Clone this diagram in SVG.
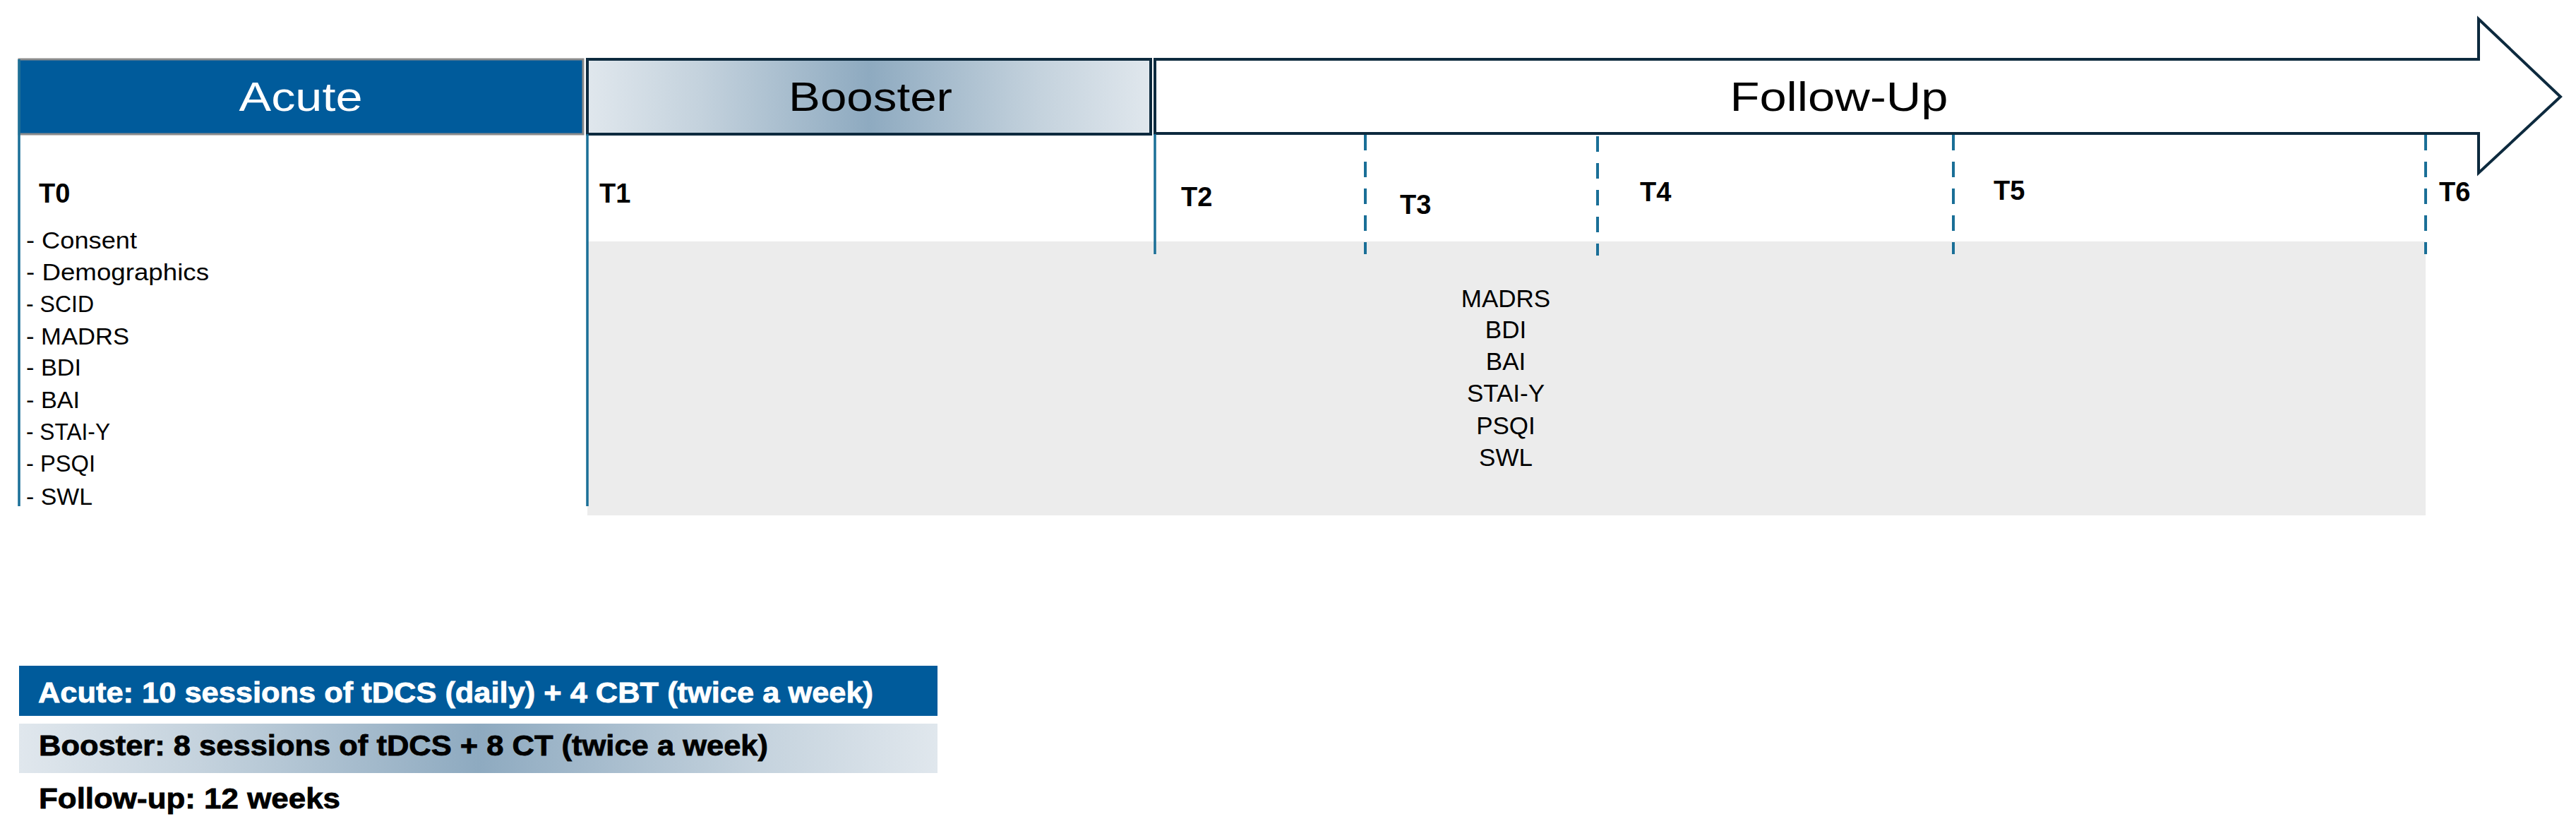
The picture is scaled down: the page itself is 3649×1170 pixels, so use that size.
<svg xmlns="http://www.w3.org/2000/svg" width="3649" height="1170" viewBox="0 0 3649 1170">
  <style>
    .hdr { font-family: "Liberation Sans", Arial, sans-serif; font-size: 58px; text-anchor: middle; }
    .tl { font-family: "Liberation Sans", Arial, sans-serif; font-size: 38px; font-weight: bold; fill: #000; }
    .lst { font-family: "Liberation Sans", Arial, sans-serif; font-size: 33px; fill: #000; }
    .ctr { font-family: "Liberation Sans", Arial, sans-serif; font-size: 35px; fill: #000; text-anchor: middle; }
    .leg { font-family: "Liberation Sans", Arial, sans-serif; font-size: 40px; font-weight: bold; stroke-width: 0.8; }
    .solid { stroke: #1a6f97; stroke-width: 3.5; fill: none; }
    .dash { stroke: #1a6f97; stroke-width: 4; fill: none; stroke-dasharray: 22 16; }
  </style>
  <defs>
    <linearGradient id="boostGrad" x1="0" y1="0" x2="1" y2="0">
      <stop offset="0" stop-color="#e0e7ed"/>
      <stop offset="0.2" stop-color="#c4d2dd"/>
      <stop offset="0.5" stop-color="#8eaac0"/>
      <stop offset="0.8" stop-color="#c4d2dd"/>
      <stop offset="1" stop-color="#e0e7ed"/>
    </linearGradient>
  </defs>

  <rect width="3649" height="1170" fill="#ffffff"/>

  <!-- gray measurement band -->
  <g id="followup-measures">
    <rect x="832" y="342" width="2604" height="388" fill="#ececec"/>
    <text class="ctr" x="2133" y="435">MADRS</text>
    <text class="ctr" x="2133" y="479">BDI</text>
    <text class="ctr" x="2133" y="524">BAI</text>
    <text class="ctr" x="2133" y="569">STAI-Y</text>
    <text class="ctr" x="2133" y="615">PSQI</text>
    <text class="ctr" x="2133" y="660">SWL</text>
  </g>

  <!-- phase headers -->
  <g id="acute">
    <rect x="27" y="84" width="799" height="106" fill="#005b9b" stroke="#8c8c8c" stroke-width="3"/>
    <text class="hdr" x="426" y="157" fill="#ffffff" textLength="175" lengthAdjust="spacingAndGlyphs">Acute</text>
  </g>
  <g id="booster">
    <rect x="832" y="84" width="798" height="106" fill="url(#boostGrad)" stroke="#0d2a3e" stroke-width="4"/>
    <text class="hdr" x="1233" y="157" fill="#000000" textLength="232" lengthAdjust="spacingAndGlyphs">Booster</text>
  </g>
  <g id="follow-up">
    <path d="M1636,84 L3511,84 L3511,27 L3627,137 L3511,245 L3511,189 L1636,189 Z" fill="#ffffff" stroke="#0d2a3e" stroke-width="4" stroke-linejoin="miter"/>
    <text class="hdr" x="2605" y="157" fill="#000000" textLength="309" lengthAdjust="spacingAndGlyphs">Follow-Up</text>
  </g>

  <!-- timeline markers -->
  <g id="connectors">
    <line class="solid" x1="27" y1="84" x2="27" y2="717"/>
    <line class="solid" x1="832" y1="190" x2="832" y2="717"/>
    <line class="solid" x1="1636" y1="190" x2="1636" y2="360"/>
    <line class="dash" x1="1934" y1="191" x2="1934" y2="360"/>
    <line class="dash" x1="2263" y1="193" x2="2263" y2="362"/>
    <line class="dash" x1="2767" y1="191" x2="2767" y2="360"/>
    <line class="dash" x1="3436" y1="191" x2="3436" y2="360"/>
  </g>

  <!-- time point labels -->
  <g id="t0">
    <text class="tl" x="55" y="287">T0</text>
    <text class="lst" x="37" y="352" textLength="157" lengthAdjust="spacingAndGlyphs">- Consent</text>
    <text class="lst" x="37" y="397" textLength="259" lengthAdjust="spacingAndGlyphs">- Demographics</text>
    <text class="lst" x="37" y="442" textLength="96" lengthAdjust="spacingAndGlyphs">- SCID</text>
    <text class="lst" x="37" y="488" textLength="146" lengthAdjust="spacingAndGlyphs">- MADRS</text>
    <text class="lst" x="37" y="532" textLength="78" lengthAdjust="spacingAndGlyphs">- BDI</text>
    <text class="lst" x="37" y="578" textLength="76" lengthAdjust="spacingAndGlyphs">- BAI</text>
    <text class="lst" x="37" y="623" textLength="119" lengthAdjust="spacingAndGlyphs">- STAI-Y</text>
    <text class="lst" x="37" y="668" textLength="98" lengthAdjust="spacingAndGlyphs">- PSQI</text>
    <text class="lst" x="37" y="715" textLength="94" lengthAdjust="spacingAndGlyphs">- SWL</text>
  </g>
  <g id="t1"><text class="tl" x="849" y="287">T1</text></g>
  <g id="t2"><text class="tl" x="1673" y="292">T2</text></g>
  <g id="t3"><text class="tl" x="1983" y="303">T3</text></g>
  <g id="t4"><text class="tl" x="2323" y="285">T4</text></g>
  <g id="t5"><text class="tl" x="2824" y="283">T5</text></g>
  <g id="t6"><text class="tl" x="3455" y="285">T6</text></g>

  <!-- legend -->
  <g id="legend-acute">
    <rect x="27" y="943" width="1301" height="71" fill="#005b9b"/>
    <text class="leg" x="54" y="995" fill="#ffffff" stroke="#ffffff" textLength="1183" lengthAdjust="spacingAndGlyphs">Acute: 10 sessions of tDCS (daily) + 4 CBT (twice a week)</text>
  </g>
  <g id="legend-booster">
    <rect x="27" y="1025" width="1301" height="70" fill="url(#boostGrad)"/>
    <text class="leg" x="55" y="1070" fill="#000000" stroke="#000000" textLength="1033" lengthAdjust="spacingAndGlyphs">Booster: 8 sessions of tDCS + 8 CT (twice a week)</text>
  </g>
  <g id="legend-followup">
    <text class="leg" x="55" y="1145" fill="#000000" stroke="#000000" textLength="427" lengthAdjust="spacingAndGlyphs">Follow-up: 12 weeks</text>
  </g>
</svg>
